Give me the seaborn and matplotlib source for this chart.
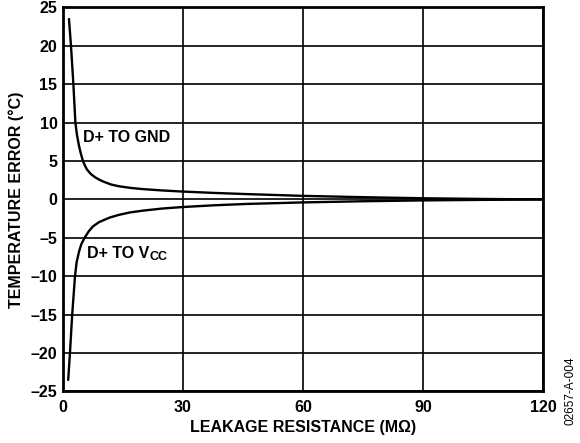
import numpy as np
import pandas as pd
import matplotlib
matplotlib.use("Agg")
import matplotlib.pyplot as plt
import seaborn as sns

# leakage resistance (MOhm) vs temperature error (degC)
res_gnd = [1.5, 2.0, 2.6, 3.1, 3.5, 4.0, 4.5, 5.0, 5.5, 6.0, 7.0, 8.0, 9.0, 10.0, 12.0, 14.0,
           17.0, 20.0, 25.0, 30.0, 38.0, 46.0, 60.0, 75.0, 90.0, 105.0, 120.0]
err_gnd = [23.5, 20.0, 15.0, 10.0, 8.4, 7.0, 5.9, 5.0, 4.4, 3.9, 3.3, 2.9, 2.6, 2.35, 1.95, 1.72,
           1.5, 1.35, 1.17, 1.03, 0.85, 0.7, 0.47, 0.3, 0.16, 0.07, 0.0]

res_vcc = [1.3, 1.74, 2.3, 3.0, 3.4, 4.0, 4.6, 5.5, 6.5, 7.5, 9.0, 11.7, 14.0, 16.6, 20.0,
           25.0, 30.0, 38.0, 46.0, 60.0, 75.0, 90.0, 105.0, 120.0]
err_vcc = [-23.5, -20.0, -15.0, -10.0, -8.2, -6.8, -5.8, -4.9, -4.1, -3.5, -2.95, -2.35, -2.0,
           -1.7, -1.45, -1.17, -0.98, -0.75, -0.58, -0.38, -0.23, -0.12, -0.05, 0.0]

xticks = [0, 30, 60, 90, 120]
yticks = [-25, -20, -15, -10, -5, 0, 5, 10, 15, 20, 25]

df = pd.concat([
    pd.DataFrame({"res": res_gnd, "err": err_gnd, "conn": "gnd"}),
    pd.DataFrame({"res": res_vcc, "err": err_vcc, "conn": "vcc"}),
])

sns.set_theme(style="white")
plt.rcParams["font.family"] = ["Liberation Sans", "DejaVu Sans"]
plt.rcParams["text.color"] = "black"
plt.rcParams["axes.labelcolor"] = "black"

fig = plt.figure(figsize=(5.8, 4.43), dpi=100)
ax = fig.add_axes([0.1086, 0.1163, 0.8276, 0.8668])

sns.lineplot(data=df, x="res", y="err", units="conn", estimator=None, sort=False,
             color="black", linewidth=1.7, ax=ax, legend=False)

fs = 11.5
ax.set_xlim(0, 120)
ax.set_ylim(-25, 25)
ax.set_xticks(xticks)
ax.set_yticks(yticks)
ax.set_yticklabels([str(t).replace("-", "\u2013") for t in yticks])
ax.grid(True, color="black", linewidth=1.2)
ax.tick_params(axis="both", length=0, labelsize=fs, colors="black")
ax.tick_params(axis="x", pad=6)
ax.tick_params(axis="y", pad=4)
for lab in ax.get_xticklabels() + ax.get_yticklabels():
    lab.set_fontweight("bold")
for sp in ax.spines.values():
    sp.set_color("black")
    sp.set_linewidth(2)

ax.set_xlabel("LEAKAGE RESISTANCE (M\u03a9)", fontsize=fs, fontweight="bold", labelpad=4)
ax.set_ylabel("TEMPERATURE ERROR (\u00b0C)", fontsize=fs, fontweight="bold", labelpad=5)

ax.text(5.0, 8.1, "D+ TO GND", fontsize=fs, fontweight="bold", va="center", ha="left")
vt = ax.text(6.0, -7.0, "D+ TO V", fontsize=fs, fontweight="bold", va="center", ha="left")
ax.annotate("CC", xy=(1, 0), xycoords=vt, xytext=(0.5, -1.5), textcoords="offset points",
            fontsize=9, fontweight="bold", ha="left", va="bottom")

fig.text(0.983, 0.117, "02657-A-004", rotation=90, fontsize=8.5, ha="center", va="center")

fig.savefig("out.png", dpi=100)
